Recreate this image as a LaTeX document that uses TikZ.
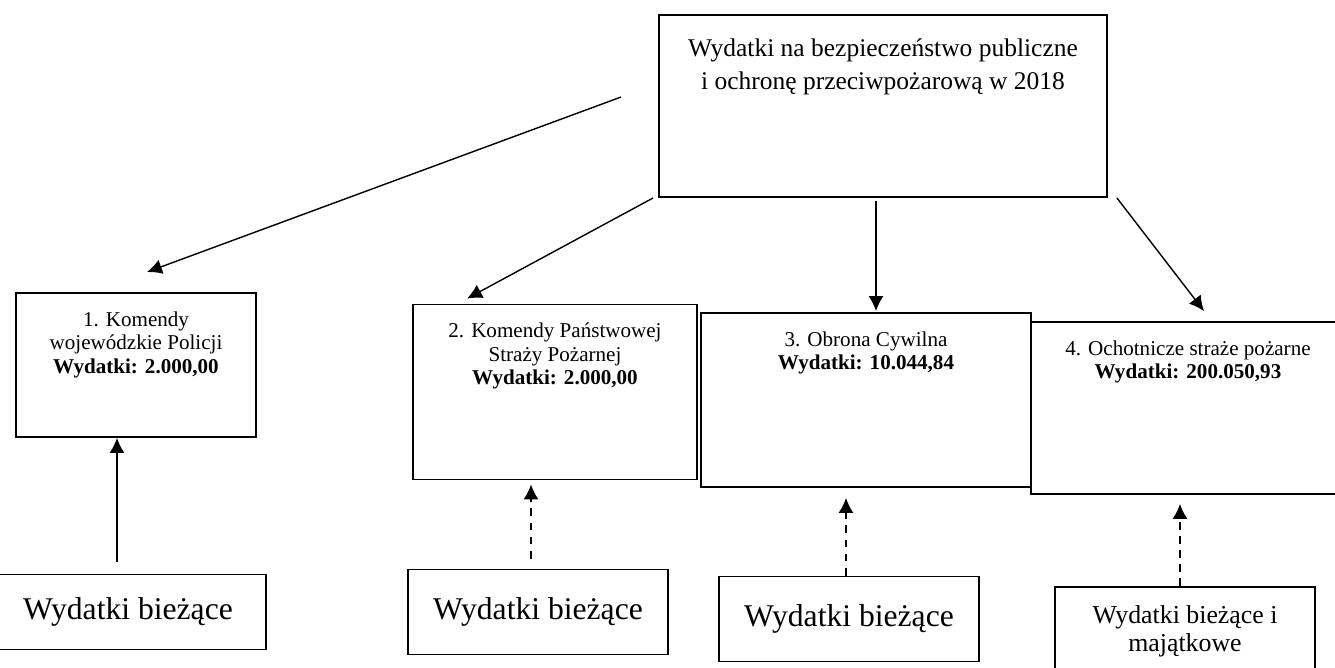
\documentclass[tikz,border=0pt]{standalone}
\usepackage{fontspec}
\setmainfont{Liberation Serif}
\usetikzlibrary{positioning,arrows.meta}

\begin{document}
\begin{tikzpicture}[
		x=0.02cm, y=-0.02cm,
		>={Latex[length=8.5pt,width=8.5pt]},
		box/.style = {draw, rectangle, line width=1.1pt, inner sep=0pt},
		lbl/.style = {anchor=north, align=center, inner sep=0pt, yshift=-11pt, font=\fontsize{12}{13.4}\selectfont},
		low/.style = {draw, rectangle, line width=1.1pt, align=center, font=\fontsize{18}{20}\selectfont},
		arr/.style = {->, line width=0.8pt},
		darr/.style = {arr, dash pattern=on 4.5pt off 3.5pt}
	]
	\useasboundingbox (0,0) rectangle (1335,667);
	% Top.
	\node[box, minimum width=8.96cm, minimum height=3.64cm,
		label={[lbl, yshift=-2.7pt, font=\fontsize{14.5}{18.8}\selectfont]north:{Wydatki na bezpieczeństwo publiczne\\i ochronę przeciwpożarową w 2018}}] (top) at (883,106) {};
	% Units.
	\node[box, minimum width=4.8cm, minimum height=2.88cm,
		label={[lbl]north:{1. Komendy\\wojewódzkie Policji\\\textbf{Wydatki: 2.000,00}}}] (pol) at (136,365) {};
	\node[box, minimum width=5.68cm, minimum height=3.5cm,
		label={[lbl]north:{2. Komendy Państwowej\\Straży Pożarnej\\\textbf{Wydatki: 2.000,00}}}] (psp) at (555,392) {};
	\node[box, minimum width=6.6cm, minimum height=3.48cm,
		label={[lbl]north:{3. Obrona Cywilna\\\textbf{Wydatki: 10.044,84}}}] (oc) at (866,400) {};
	\node[box, minimum width=6.28cm, minimum height=3.44cm,
		label={[lbl]north:{4. Ochotnicze straże pożarne\\\textbf{Wydatki: 200.050,93}}}] (osp) at (1188,408) {};
	% Kinds of spending.
	\node[low, minimum width=5.52cm, minimum height=1.5cm] (b1) at (128,612) {Wydatki bieżące};
	\node[low, minimum width=5.2cm, minimum height=1.7cm] (b2) at (538,612) {Wydatki bieżące};
	\node[low, minimum width=5.2cm, minimum height=1.7cm] (b3) at (849,619) {Wydatki bieżące};
	\node[low, minimum width=5.2cm, minimum height=1.76cm, font=\fontsize{14.7}{16}\selectfont] (b4) at (1185,631) {Wydatki bieżące i\\majątkowe};

	\draw[arr] ([shift={(-37,-9)}]top.west) to ([shift={(11,-20)}]pol.north);
	\draw[arr] ([shift={(-5,0)}]top.south west) to ([shift={(55,-5)}]psp.north west);
	\draw[arr] ([shift={(-7,3)}]top.south) to ([shift={(10,-1)}]oc.north);
	\draw[arr] ([shift={(9,0)}]top.south east) to ([shift={(16,-10)}]osp.north);
	\draw[arr] ([shift={(-11,-12)}]b1.north) to ([shift={(-19,0)}]pol.south);
	\draw[darr] ([shift={(-7,-10)}]b2.north) to ([shift={(-24,4)}]psp.south);
	\draw[darr] ([shift={(-3,0)}]b3.north) to ([shift={(-20,10)}]oc.south);
	\draw[darr] ([shift={(-5,0)}]b4.north) to ([shift={(-8,9)}]osp.south);
\end{tikzpicture}
\end{document}
